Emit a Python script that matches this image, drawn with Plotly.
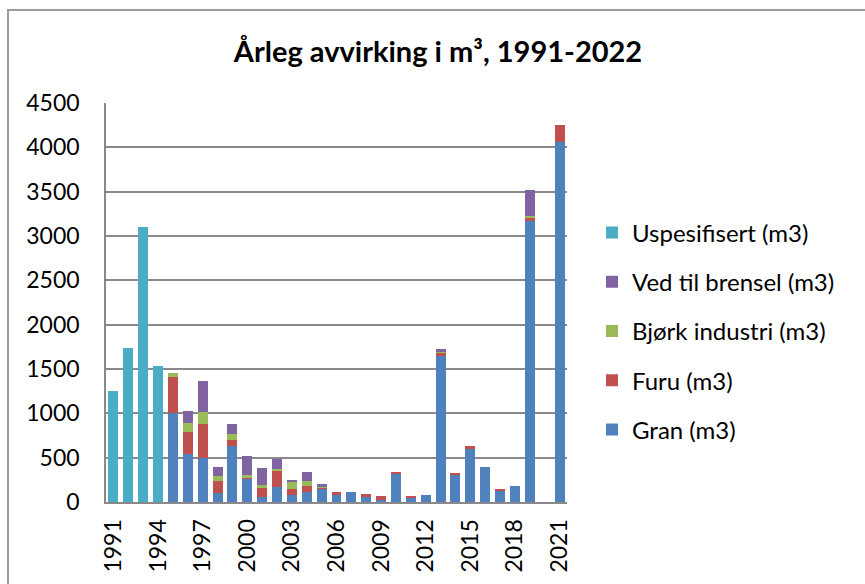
import plotly.graph_objects as go

years = [str(y) for y in range(1991, 2022)]
tick_years = [str(y) for y in range(1991, 2022, 3)]

gran = [0, 0, 0, 0, 1000, 540, 492, 98, 635, 263, 53, 165, 75, 116, 150, 83,
        118, 56, 26, 319, 53, 84, 1650, 312, 597, 394, 131, 184, 3167, 0, 4060]
furu = [0, 0, 0, 0, 412, 252, 391, 142, 67, 11, 109, 188, 71, 68, 12, 26,
        0, 38, 38, 22, 20, 0, 33, 11, 30, 0, 15, 0, 37, 0, 195]
bjork = [0, 0, 0, 0, 45, 97, 135, 53, 68, 30, 26, 18, 75, 56, 5, 0,
         0, 0, 0, 0, 0, 0, 5, 0, 0, 0, 0, 0, 19, 0, 0]
ved = [0, 0, 0, 0, 0, 140, 342, 105, 113, 214, 199, 113, 23, 94, 35, 0,
       0, 0, 0, 0, 0, 0, 38, 0, 0, 0, 0, 0, 300, 0, 0]
uspesifisert = [1255, 1735, 3106, 1533, 0, 0, 0, 0, 0, 0, 0, 0, 0, 0, 0, 0,
                0, 0, 0, 0, 0, 0, 0, 0, 0, 0, 0, 0, 0, 0, 0]

series = [
    ("Gran (m3)", gran, "#4F81BD"),
    ("Furu (m3)", furu, "#C0504D"),
    ("Bjørk industri (m3)", bjork, "#9BBB59"),
    ("Ved til brensel (m3)", ved, "#8064A2"),
    ("Uspesifisert (m3)", uspesifisert, "#4BACC6"),
]

FONT = "Lato, 'Open Sans', sans-serif"

fig = go.Figure()
n = len(series)
for i, (name, vals, col) in enumerate(series):
    fig.add_trace(go.Bar(x=years, y=vals, name=name, legendgroup=name,
                         legendrank=1000 + (n - i),
                         marker=dict(color=col, line=dict(width=0))))

W, H = 865, 584
L, R, T, B = 106, 865 - 567, 103, 584 - 502
pw, ph = W - L - R, H - T - B

def px_x(p):
    return (p - L) / pw

def px_y(p):
    return (H - B - p) / ph

fig.update_layout(
    width=W, height=H,
    margin=dict(l=L, r=R, t=T, b=B),
    barmode="stack",
    bargap=0.33,
    paper_bgcolor="white",
    plot_bgcolor="white",
    font=dict(family=FONT, size=23, color="black"),
    title=dict(text="<b>Årleg avvirking i m³, 1991-2022</b>",
               x=438 / W, xref="container", xanchor="center",
               y=1 - 52 / H, yref="container", yanchor="middle",
               font=dict(family=FONT, size=29, color="black")),
    legend=dict(x=px_x(592), xanchor="left", y=px_y(331), yanchor="middle",
                traceorder="grouped", tracegroupgap=15,
                font=dict(family=FONT, size=24, color="black"),
                bgcolor="rgba(0,0,0,0)"),
    xaxis=dict(type="category", tickmode="array", tickvals=tick_years,
               ticktext=tick_years, tickangle=-90, showgrid=False,
               showline=True, linecolor="#898989", linewidth=2,
               ticks="", ticklabelstandoff=6,
               tickfont=dict(family=FONT, size=23, color="black")),
    yaxis=dict(range=[0, 4500], dtick=500, tick0=0, showgrid=True,
               gridcolor="#898989", gridwidth=1.5,
               showline=True, linecolor="#898989", linewidth=1.5,
               zeroline=False, ticks="", ticklabelstandoff=20,
               tickfont=dict(family=FONT, size=23, color="black")),
    shapes=[dict(type="rect", xref="paper", yref="paper",
                 x0=px_x(8), x1=px_x(880), y0=px_y(10), y1=px_y(620),
                 line=dict(color="#9a9a9a", width=2), fillcolor="rgba(0,0,0,0)",
                 layer="below")],
)

fig.write_html("out.html", config={"displayModeBar": False},
               post_script="document.body.style.margin='0';")
